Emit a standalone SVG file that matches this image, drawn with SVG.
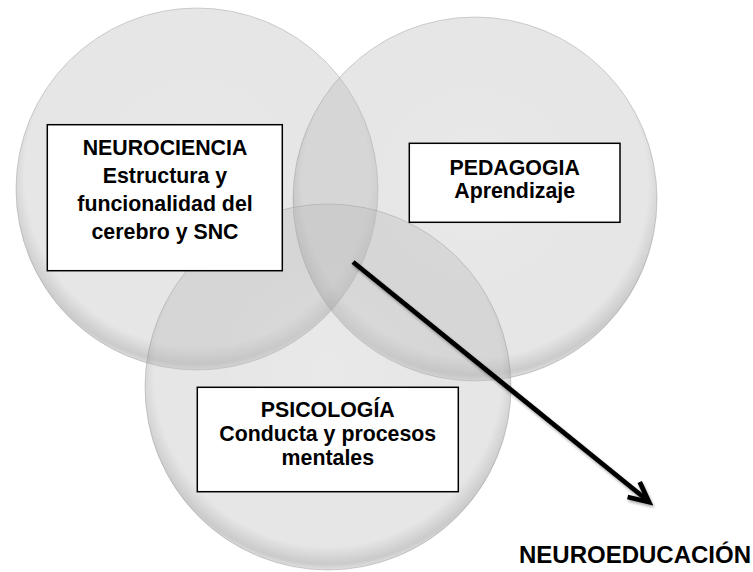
<svg xmlns="http://www.w3.org/2000/svg" width="753" height="572" viewBox="0 0 753 572">
  <style>
    .circ { fill: #bcbcbc; fill-opacity: 0.38; stroke: #999999; stroke-opacity: 0.55; stroke-width: 0.8; }
    .rim { fill: url(#rimGrad); }
    .box { fill: #ffffff; stroke: #000000; stroke-width: 1.5; }
    .t { font-family: "Liberation Sans", Arial, sans-serif; font-weight: bold; font-size: 21.33px; text-anchor: middle; fill: #000000; }
    .big { font-size: 24px; }
    .conn { fill: none; stroke: #000000; stroke-width: 4.8; stroke-linecap: butt; stroke-linejoin: miter; }
  </style>
  <defs>
    <radialGradient id="rimGrad" cx="0.5" cy="0.46" r="0.54">
      <stop offset="0" stop-color="#ffffff" stop-opacity="0.12"/>
      <stop offset="0.6" stop-color="#ffffff" stop-opacity="0"/>
      <stop offset="0.88" stop-color="#000000" stop-opacity="0"/>
      <stop offset="0.97" stop-color="#000000" stop-opacity="0.12"/>
      <stop offset="1" stop-color="#000000" stop-opacity="0.03"/>
    </radialGradient>
    <filter id="shadow" x="-10%" y="-10%" width="130%" height="130%">
      <feGaussianBlur in="SourceAlpha" stdDeviation="1.5"/>
      <feOffset dx="1" dy="2" result="b"/>
      <feComponentTransfer><feFuncA type="linear" slope="0.35"/></feComponentTransfer>
      <feMerge><feMergeNode/><feMergeNode in="SourceGraphic"/></feMerge>
    </filter>
  </defs>

  <g id="circles">
    <g id="circle-neurociencia">
      <circle class="circ" cx="197" cy="189" r="181"/>
      <circle class="rim" cx="197" cy="189" r="181"/>
    </g>
    <g id="circle-pedagogia">
      <circle class="circ" cx="475" cy="199" r="182"/>
      <circle class="rim" cx="475" cy="199" r="182"/>
    </g>
    <g id="circle-psicologia">
      <circle class="circ" cx="328" cy="387" r="183"/>
      <circle class="rim" cx="328" cy="387" r="183"/>
    </g>
  </g>

  <g id="node-neurociencia">
    <rect class="box" x="47.3" y="124.7" width="235" height="146"/>
    <text class="t" x="165" y="155">NEUROCIENCIA</text>
    <text class="t" x="165" y="183">Estructura y</text>
    <text class="t" x="165" y="211">funcionalidad del</text>
    <text class="t" x="165" y="239">cerebro y SNC</text>
  </g>

  <g id="node-pedagogia">
    <rect class="box" x="409.3" y="143.3" width="210.7" height="79"/>
    <text class="t" x="514.7" y="174.5">PEDAGOGIA</text>
    <text class="t" x="514.7" y="197.5">Aprendizaje</text>
  </g>

  <g id="node-psicologia">
    <rect class="box" x="197.3" y="387.3" width="261" height="104.4"/>
    <text class="t" x="327.8" y="416.5">PSICOLOGÍA</text>
    <text class="t" x="327.8" y="441">Conducta y procesos</text>
    <text class="t" x="327.8" y="465">mentales</text>
  </g>

  <g id="connectors" filter="url(#shadow)">
    <path class="conn" d="M353,262 L647,500"/>
    <path class="conn" d="M639.7,482 L649,502 L627.6,497"/>
  </g>

  <g id="node-neuroeducacion">
    <text class="t big" x="635" y="563">NEUROEDUCACIÓN</text>
  </g>
</svg>
